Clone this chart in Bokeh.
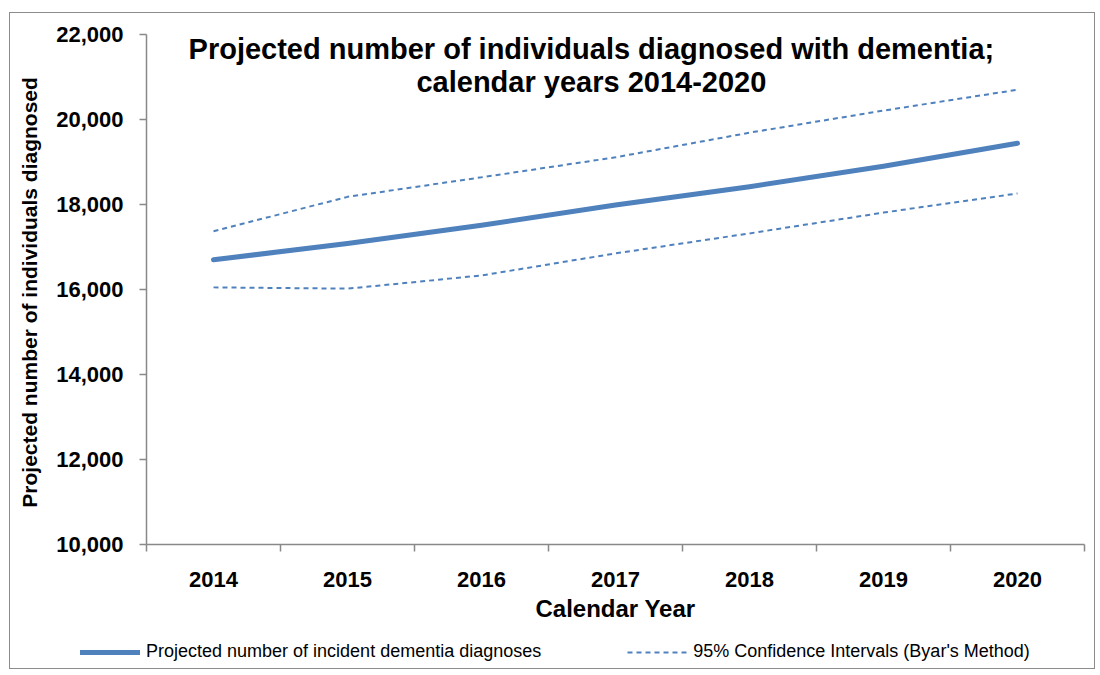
from bokeh.plotting import figure
from bokeh.layouts import column, row
from bokeh.models import (Range1d, FixedTicker, NumeralTickFormatter, Label,
                          Legend, LegendItem)
from bokeh.embed import file_html
from bokeh.resources import INLINE

# ---- data ----
years = ["2014", "2015", "2016", "2017", "2018", "2019", "2020"]
projected = [16700, 17080, 17510, 17990, 18420, 18900, 19440]
upper_ci = [17370, 18180, 18640, 19110, 19690, 20210, 20700]
lower_ci = [16050, 16020, 16330, 16850, 17320, 17810, 18260]
y_ticks = [10000, 12000, 14000, 16000, 18000, 20000, 22000]

title_lines = ["Projected number of individuals diagnosed with dementia;",
               "calendar years 2014-2020"]
legend_labels = ["Projected number of incident dementia diagnoses",
                 "95% Confidence Intervals (Byar's Method)"]

FONT = "Liberation Sans"
BLUE = "#4F81BD"
GREY = "#898989"
MAIN_STYLE = dict(line_color=BLUE, line_width=5, line_cap="round", line_join="round")
CI_STYLE = dict(line_color=BLUE, line_width=2, line_dash="5 4")

xs = [i + 0.5 for i in range(len(years))]

p = figure(width=1084, height=620, output_backend="svg", toolbar_location=None,
           x_range=Range1d(0, len(years)), y_range=Range1d(y_ticks[0], y_ticks[-1]),
           min_border_left=136, min_border_right=10, min_border_top=21,
           min_border_bottom=89)
p.outline_line_color = None
p.grid.visible = False
p.background_fill_color = "white"
p.border_fill_color = "white"

r_main = p.line(xs, projected, **MAIN_STYLE)
r_up = p.line(xs, upper_ci, **CI_STYLE)
r_lo = p.line(xs, lower_ci, **CI_STYLE)

# x axis: labels at category centres, ticks at category boundaries
p.xaxis.ticker = FixedTicker(ticks=xs, minor_ticks=list(range(len(years) + 1)))
p.xaxis.major_label_overrides = {x: y for x, y in zip(xs, years)}
p.xaxis.major_tick_out = 0
p.xaxis.major_tick_in = 0
p.xaxis.minor_tick_out = 7
p.xaxis.minor_tick_in = 0
p.xaxis.minor_tick_line_color = GREY
p.xaxis.minor_tick_line_width = 1.5
p.xaxis.major_label_standoff = 20
p.xaxis.axis_label = "Calendar Year"
p.xaxis.axis_label_standoff = 5

# y axis
p.yaxis.ticker = FixedTicker(ticks=y_ticks, minor_ticks=[])
p.yaxis.formatter = NumeralTickFormatter(format="0,0")
p.yaxis.major_tick_out = 7
p.yaxis.major_tick_in = 0
p.yaxis.major_label_standoff = 16
p.yaxis.axis_label = "Projected number of individuals  diagnosed"
p.yaxis.axis_label_standoff = 12

for ax in (p.xaxis, p.yaxis):
    ax.axis_line_color = GREY
    ax.axis_line_width = 1.5
    ax.major_tick_line_color = GREY
    ax.major_tick_line_width = 1.5
    ax.major_label_text_font = FONT
    ax.major_label_text_font_style = "bold"
    ax.major_label_text_color = "black"
    ax.axis_label_text_font = FONT
    ax.axis_label_text_font_style = "bold"
    ax.axis_label_text_color = "black"

p.xaxis.major_label_text_font_size = "22px"
p.yaxis.major_label_text_font_size = "22px"
p.xaxis.axis_label_text_font_size = "24px"
p.yaxis.axis_label_text_font_size = "21px"

# title (inside plot area, as in the reference)
title_x = 3.32
for txt, ty in zip(title_lines, [21650, 20890]):
    p.add_layout(Label(x=title_x, y=ty, text=txt, text_align="center",
                       text_baseline="middle", text_font=FONT,
                       text_font_style="bold", text_font_size="29px",
                       text_color="black"))

# legend strip below the chart (legend proxies share the series' styles)
q = figure(width=1084, height=35, output_backend="svg", toolbar_location=None,
           x_axis_location=None, y_axis_location=None, title=None,
           min_border_left=0, min_border_right=0, min_border_top=0, min_border_bottom=0)
q.outline_line_color = None
q.grid.visible = False
q_main = q.line(xs[:1], projected[:1], **MAIN_STYLE)
q_ci = q.line(xs[:1], upper_ci[:1], **CI_STYLE)
legend = Legend(items=[
    LegendItem(label=legend_labels[0], renderers=[q_main]),
    LegendItem(label=legend_labels[1], renderers=[q_ci]),
], orientation="horizontal", location=(70, 6), glyph_width=60, glyph_height=20,
    label_standoff=6, spacing=86, padding=0, margin=0,
    label_text_font=FONT, label_text_font_size="18px", label_text_color="black",
    border_line_color=None, background_fill_alpha=0)
q.add_layout(legend, "center")

layout = column(p, row(q), spacing=0,
                styles={"border": "1px solid #8c8c8c", "margin-left": "9px",
                        "margin-top": "12px", "background": "white"})

open("out.html", "w").write(file_html(layout, INLINE))
